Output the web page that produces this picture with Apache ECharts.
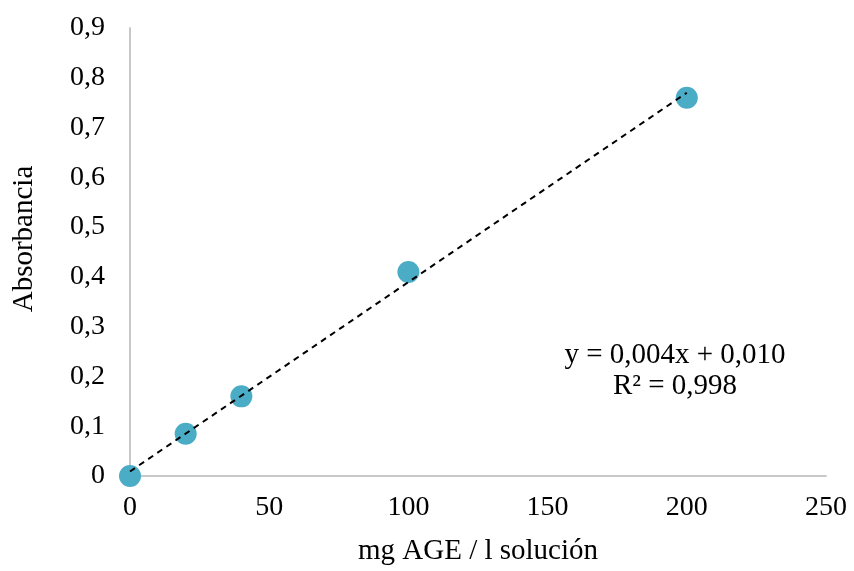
<!DOCTYPE html>
<html>
<head>
<meta charset="utf-8">
<script src="https://cdn.jsdelivr.net/npm/echarts@6/dist/echarts.min.js"></script>
<style>
  html, body { margin: 0; padding: 0; background: #fff; }
  #chart { width: 854px; height: 571px; }
</style>
</head>
<body>
<div id="chart"></div>
<script>
// Calibration points: concentration (mg AGE / l) vs absorbance
const concentration = [0, 20, 40, 100, 200];
const absorbance = [0.000, 0.085, 0.160, 0.410, 0.760];

const xTicks = [0, 50, 100, 150, 200, 250];
const yTicks = [0, 0.1, 0.2, 0.3, 0.4, 0.5, 0.6, 0.7, 0.8, 0.9];

const xTitle = 'mg AGE / l solución';
const yTitle = 'Absorbancia';
const equationText = 'y = 0,004x + 0,010';
const r2Text = 'R² = 0,998';

// Least-squares linear fit of the calibration points
function linearFit(xs, ys) {
  const n = xs.length;
  const mx = xs.reduce((a, b) => a + b, 0) / n;
  const my = ys.reduce((a, b) => a + b, 0) / n;
  let sxy = 0, sxx = 0;
  for (let i = 0; i < n; i++) {
    sxy += (xs[i] - mx) * (ys[i] - my);
    sxx += (xs[i] - mx) * (xs[i] - mx);
  }
  const slope = sxy / sxx;
  return { slope, intercept: my - slope * mx };
}
const fit = linearFit(concentration, absorbance);
const xStart = Math.min(...concentration);
const xEnd = Math.max(...concentration);
const trendData = [
  [xStart, fit.intercept + fit.slope * xStart],
  [xEnd, fit.intercept + fit.slope * xEnd]
];

const FONT = '"Liberation Serif", "Times New Roman", serif';
const fmt = v => String(Math.round(v * 10) / 10).replace('.', ',');

const chart = echarts.init(document.getElementById('chart'), null, { renderer: 'canvas' });
chart.setOption({
  animation: false,
  backgroundColor: '#ffffff',
  grid: { left: 130, right: 28, top: 28, bottom: 93 },
  xAxis: {
    type: 'value',
    min: xTicks[0],
    max: xTicks[xTicks.length - 1],
    interval: 50,
    name: xTitle,
    nameLocation: 'middle',
    nameGap: 61,
    nameTextStyle: { fontFamily: FONT, fontSize: 29, color: '#000' },
    axisLine: { show: true, lineStyle: { color: '#c8c8c8', width: 2 } },
    axisTick: { show: false },
    splitLine: { show: false },
    axisLabel: { fontFamily: FONT, fontSize: 28, color: '#000', margin: 18 }
  },
  yAxis: {
    type: 'value',
    min: yTicks[0],
    max: yTicks[yTicks.length - 1],
    interval: 0.1,
    axisLine: { show: true, lineStyle: { color: '#c8c8c8', width: 2 } },
    axisTick: { show: false },
    splitLine: { show: false },
    axisLabel: { fontFamily: FONT, fontSize: 28, color: '#000', margin: 25, formatter: fmt }
  },
  series: [
    {
      type: 'scatter',
      data: concentration.map((x, i) => [x, absorbance[i]]),
      symbol: 'circle',
      symbolSize: 22,
      itemStyle: { color: '#4bacc6', opacity: 1 },
      z: 2
    },
    {
      type: 'line',
      data: trendData,
      symbol: 'none',
      lineStyle: { color: '#000', width: 2, type: [6, 5] },
      z: 3
    }
  ],
  graphic: [
    {
      // vertical axis title
      type: 'text',
      x: 24,
      y: 239,
      rotation: Math.PI / 2,
      style: {
        text: yTitle,
        fontFamily: FONT, fontSize: 29, fill: '#000',
        align: 'center', verticalAlign: 'middle'
      }
    },
    {
      // regression equation and coefficient of determination
      type: 'text',
      x: 675,
      y: 340,
      style: {
        text: equationText + '\n' + r2Text,
        fontFamily: FONT, fontSize: 29, fill: '#000',
        align: 'center', verticalAlign: 'top', lineHeight: 31
      }
    }
  ]
});
</script>
</body>
</html>
